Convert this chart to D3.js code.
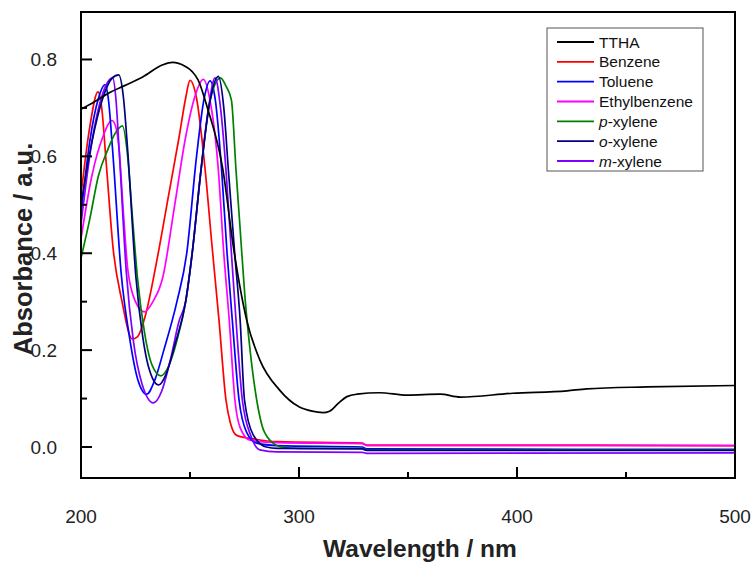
<!DOCTYPE html>
<html>
<head>
<meta charset="utf-8">
<script src="https://cdn.jsdelivr.net/npm/d3@7"></script>
<style>
  body { margin: 0; background: white; }
  svg text { font-family: Arial, "Liberation Sans", sans-serif; }
</style>
</head>
<body>
<svg id="chart" width="752" height="563"></svg>
<script>
// absorbance spectra, [wavelength nm, absorbance]
const ttha = [[200,0.697],[206,0.712],[212.8,0.731],[220,0.746],[228.3,0.764],[237.5,0.789],[242,0.794],[247.7,0.786],[251,0.775],[253.7,0.758],[258,0.70],[265,0.575],[270,0.41],[276,0.262],[282,0.18],[291,0.118],[300,0.083],[306,0.074],[311,0.071],[314,0.074],[318,0.09],[322,0.104],[326.6,0.109],[337,0.112],[349.5,0.107],[364.7,0.109],[374,0.103],[398,0.111],[423,0.116],[432,0.12],[459.6,0.124],[500,0.127]];
const benzene = [[200,0.52],[204,0.66],[207.8,0.733],[209.5,0.7],[211.5,0.59],[214.8,0.407],[218.7,0.303],[223.5,0.223],[226,0.228],[229.4,0.269],[235,0.39],[240.2,0.52],[245,0.64],[248,0.72],[250,0.757],[253,0.72],[257,0.57],[260,0.42],[263.3,0.262],[266.5,0.097],[268.5,0.05],[271.4,0.024],[280,0.016],[290,0.011],[329,0.008],[331,0.004],[400,0.004],[500,0.003]];
const toluene = [[200,0.48],[204,0.63],[208,0.72],[211,0.748],[212.5,0.72],[214.5,0.613],[218.5,0.355],[222.2,0.228],[226,0.14],[230.1,0.109],[234,0.14],[238,0.2],[244,0.3],[248.5,0.4],[253,0.6],[256.5,0.72],[259.2,0.756],[261.5,0.72],[264.5,0.572],[267,0.4],[269.4,0.262],[272.5,0.097],[276,0.03],[280.6,0.008],[290,0.003],[329,0.0],[331,-0.004],[500,-0.005]];
const ethylbenzene = [[200,0.43],[205,0.56],[210,0.64],[214.2,0.674],[216,0.66],[217.5,0.613],[219.5,0.48],[221.5,0.365],[225,0.3],[229,0.279],[233,0.3],[237.5,0.35],[243,0.5],[248,0.64],[252,0.72],[256.1,0.759],[259,0.72],[263,0.572],[265.5,0.4],[268,0.262],[270.6,0.097],[273,0.04],[277.5,0.014],[290,0.009],[329,0.007],[331,0.003],[500,0.003]];
const pXylene = [[200,0.39],[204,0.47],[208,0.56],[212.2,0.613],[216,0.65],[219,0.663],[221.4,0.6],[223.5,0.48],[226,0.345],[229,0.24],[232.5,0.17],[236.7,0.147],[240,0.165],[244,0.22],[248,0.3],[251,0.4],[255,0.57],[259,0.71],[264,0.762],[266.5,0.745],[269,0.716],[271.1,0.572],[273,0.45],[275.2,0.31],[277.2,0.215],[280.6,0.097],[283,0.045],[286.7,0.014],[292,0.0],[300,-0.003],[329,-0.003],[331,-0.006],[500,-0.006]];
const oXylene = [[200,0.5],[205,0.63],[210,0.72],[214,0.76],[217.3,0.768],[219.5,0.72],[221.4,0.613],[225.2,0.35],[228.3,0.228],[231,0.165],[235.6,0.128],[239,0.15],[243,0.21],[248,0.3],[251,0.4],[255,0.57],[259,0.71],[263,0.765],[265.5,0.7],[267.6,0.572],[270.5,0.4],[273,0.262],[275,0.097],[279,0.025],[285,0.0],[290,-0.003],[329,-0.004],[331,-0.007],[500,-0.007]];
const mXylene = [[200,0.46],[205,0.63],[210,0.73],[214.5,0.762],[216,0.72],[217.5,0.613],[220.8,0.36],[224,0.22],[228,0.13],[233.2,0.091],[237,0.115],[241,0.18],[245,0.26],[248,0.3],[251,0.4],[255,0.57],[258.5,0.7],[261.5,0.762],[264,0.7],[266.5,0.572],[269,0.4],[271.1,0.262],[274,0.097],[278,0.022],[282,-0.006],[290,-0.01],[329,-0.011],[331,-0.013],[500,-0.012]];

const seriesNames = ["TTHA", "Benzene", "Toluene", "Ethylbenzene", "p-xylene", "o-xylene", "m-xylene"];
const seriesData = [ttha, benzene, toluene, ethylbenzene, pXylene, oXylene, mXylene];
const seriesColours = ["#000000", "#ff0000", "#0000ff", "#ff00ff", "#008000", "#000080", "#8000ff"];

const xTicks = [200, 300, 400, 500];
const xMinorTicks = [250, 350, 450];
const yTicks = [0.0, 0.2, 0.4, 0.6, 0.8];
const yMinorTicks = [0.1, 0.3, 0.5, 0.7];

const svg = d3.select("#chart");
const plotLeft = 81, plotRight = 735, plotTop = 12, plotBottom = 478;

const xScale = d3.scaleLinear().domain([200, 500]).range([plotLeft, plotRight]);
const yScale = d3.scaleLinear().domain([-0.064, 0.898]).range([plotBottom, plotTop]);

svg.append("defs").append("clipPath").attr("id", "plot-clip")
    .append("rect")
    .attr("x", plotLeft).attr("y", plotTop)
    .attr("width", plotRight - plotLeft).attr("height", plotBottom - plotTop);

// curves
const line = d3.line()
    .x(d => xScale(d[0]))
    .y(d => yScale(d[1]))
    .curve(d3.curveMonotoneX);

const plot = svg.append("g").attr("clip-path", "url(#plot-clip)");
const drawOrder = [1, 3, 2, 4, 6, 5, 0];
drawOrder.forEach(i => {
    plot.append("path")
        .datum(seriesData[i])
        .attr("fill", "none")
        .attr("stroke", seriesColours[i])
        .attr("stroke-width", 1.7)
        .attr("d", line);
});

// ticks, pointing inward
const tickMarks = svg.append("g").attr("stroke", "#000").attr("stroke-width", 2);
tickMarks.selectAll("line.xtick")
    .data(xTicks.map(v => [v, 11]).concat(xMinorTicks.map(v => [v, 6])))
    .join("line")
    .attr("class", "xtick")
    .attr("x1", d => xScale(d[0])).attr("x2", d => xScale(d[0]))
    .attr("y1", plotBottom).attr("y2", d => plotBottom - d[1]);
tickMarks.selectAll("line.ytick")
    .data(yTicks.map(v => [v, 11]).concat(yMinorTicks.map(v => [v, 6])))
    .join("line")
    .attr("class", "ytick")
    .attr("y1", d => yScale(d[0])).attr("y2", d => yScale(d[0]))
    .attr("x1", plotLeft).attr("x2", d => plotLeft + d[1]);

// tick labels
svg.append("g").selectAll("text")
    .data(xTicks)
    .join("text")
    .attr("x", d => xScale(d))
    .attr("y", 523)
    .attr("text-anchor", "middle")
    .attr("font-size", 19).attr("fill", "#222")
    .text(d3.format("d"));
svg.append("g").selectAll("text")
    .data(yTicks)
    .join("text")
    .attr("x", 57)
    .attr("y", d => yScale(d))
    .attr("dy", "0.36em")
    .attr("text-anchor", "end")
    .attr("font-size", 19).attr("fill", "#222")
    .text(d3.format(".1f"));

// frame
svg.append("rect")
    .attr("x", plotLeft).attr("y", plotTop)
    .attr("width", plotRight - plotLeft).attr("height", plotBottom - plotTop)
    .attr("fill", "none")
    .attr("stroke", "#000")
    .attr("stroke-width", 2);

// axis titles
svg.append("text")
    .attr("x", 420).attr("y", 557)
    .attr("text-anchor", "middle")
    .attr("font-size", 24.5).attr("font-weight", "bold").attr("fill", "#222")
    .text("Wavelength / nm");

svg.append("text")
    .attr("transform", "translate(32,249)rotate(-90)")
    .attr("text-anchor", "middle")
    .attr("font-size", 25.5).attr("font-weight", "bold").attr("fill", "#222")
    .text("Absorbance / a.u.");

// legend
const legend = svg.append("g");
legend.append("rect")
    .attr("x", 547).attr("y", 28)
    .attr("width", 156).attr("height", 143)
    .attr("fill", "white")
    .attr("stroke", "#555")
    .attr("stroke-width", 1);

const rowY = d3.scaleLinear().domain([0, 6]).range([42, 161]);
seriesNames.forEach((name, i) => {
    const y = rowY(i);
    legend.append("line")
        .attr("x1", 557).attr("x2", 594)
        .attr("y1", y).attr("y2", y)
        .attr("stroke", seriesColours[i])
        .attr("stroke-width", 1.8);
    const t = legend.append("text")
        .attr("x", 599).attr("y", y)
        .attr("dy", "0.36em")
        .attr("font-size", 15.5)
        .attr("fill", "#111");
    if (name.includes("-xylene")) {
        t.append("tspan").attr("font-style", "italic").text(name[0]);
        t.append("tspan").text(name.slice(1));
    } else {
        t.text(name);
    }
});
</script>
</body>
</html>
